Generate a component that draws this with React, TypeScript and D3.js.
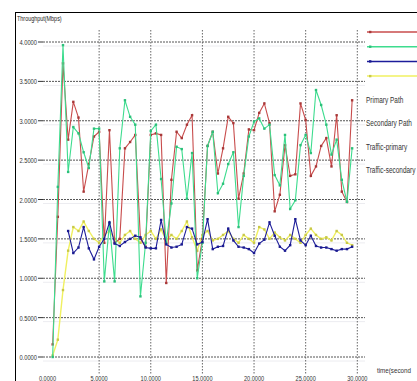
import React from "react";
import * as d3 from "d3";

const times = [0.5,1,1.5,2,2.5,3,3.5,4,4.5,5,5.5,6,6.5,7,7.5,8,8.5,9,9.5,10,10.5,11,11.5,12,12.5,13,13.5,14,14.5,15,15.5,16,16.5,17,17.5,18,18.5,19,19.5,20,20.5,21,21.5,22,22.5,23,23.5,24,24.5,25,25.5,26,26.5,27,27.5,28,28.5,29,29.5];

const primaryPath = [0.16,1.78,3.73,2.76,3.24,3.04,2.1,2.45,2.8,2.86,1.45,2.88,1.45,1.5,2.65,2.73,2.82,1.5,1.4,2.82,2.84,2.82,0.94,2.25,2.86,2.78,2.95,3.07,1.1,1.5,2.68,2.86,2.33,2.65,3.05,2.97,2.01,2.33,2.89,2.88,3.1,3.22,2.97,1.85,2.06,2.69,2.3,2.32,3.22,3.01,2.3,2.42,2.68,2.78,2.42,3.07,2.1,1.97,3.26];

const secondaryPath = [0.0,2.16,3.96,2.35,2.92,2.84,2.6,2.4,2.9,2.9,0.96,1.7,0.96,2.65,3.26,3.05,2.95,0.77,1.45,2.87,2.95,2.26,1.45,1.95,2.67,2.64,2.01,2.59,1.0,1.45,2.68,2.86,2.08,2.2,2.45,2.6,1.65,2.3,2.8,2.99,3.03,2.9,2.95,2.31,2.18,2.82,1.88,1.99,2.69,2.82,2.59,3.39,3.2,2.95,2.57,2.76,2.25,1.97,2.65];

const trafficPrimary = [null,null,null,1.6,1.32,1.39,1.65,1.38,1.24,1.4,1.5,1.71,1.44,1.41,1.46,1.5,1.54,1.52,1.39,1.38,1.38,1.74,1.43,1.39,1.4,1.43,1.65,1.63,1.43,1.46,1.75,1.37,1.4,1.41,1.63,1.48,1.4,1.39,1.37,1.32,1.44,1.49,1.71,1.54,1.4,1.35,1.42,1.75,1.48,1.42,1.54,1.41,1.39,1.39,1.37,1.35,1.37,1.37,1.4];

const trafficSecondary = [0.02,0.22,0.85,1.35,1.65,1.6,1.72,1.6,1.5,1.45,1.55,1.6,1.5,1.45,1.55,1.6,1.5,1.45,1.55,1.6,1.5,1.62,1.48,1.55,1.5,1.6,1.72,1.52,1.35,1.55,1.6,1.48,1.5,1.55,1.6,1.5,1.45,1.55,1.5,1.45,1.65,1.62,1.5,1.58,1.52,1.48,1.55,1.5,1.45,1.55,1.63,1.55,1.5,1.52,1.48,1.6,1.55,1.45,1.42];

const yTicks = [0, 0.5, 1, 1.5, 2, 2.5, 3, 3.5, 4];
const xTicks = [0, 5, 10, 15, 20, 25, 30];
const seriesNames = ["Primary Path", "Secondary Path", "Traffic-primary", "Traffic-secondary"];
const seriesColors = ["#c84c4c", "#3ddc8e", "#1c1c9a", "#f0f060"];
const markerColors = ["#a83838", "#2cc07a", "#1a1a90", "#c8c848"];

const W = 417, H = 381;
const FONT = "'Liberation Sans', Arial, sans-serif";

function NText({ x, y, sx = 0.75, size = 8, anchor = "start", children, fill = "#333" }: any) {
  return (
    <text transform={`translate(${x},${y}) scale(${sx},1)`} textAnchor={anchor}
      fontFamily={FONT} fontSize={size} fill={fill}>{children}</text>
  );
}

export default function App() {
  const x = d3.scaleLinear().domain([0, 30]).range([47.5, 357.3]);
  const y = d3.scaleLinear().domain([0, 4]).range([357, 42]);
  const allSeries = [primaryPath, secondaryPath, trafficPrimary, trafficSecondary];
  const drawOrder = [3, 0, 1, 2];

  const line = d3.line<[number, number | null]>()
    .defined(d => d[1] !== null)
    .x(d => x(d[0]))
    .y(d => y(d[1] as number));

  return (
    <div style={{ position: "fixed", left: 0, top: 0, width: W, height: H, background: "#fff" }}>
      <svg width={W} height={H} style={{ display: "block" }}>
        <rect x={0} y={0} width={W} height={H} fill="#fff" />
        {/* frame */}
        <line x1={15} y1={12.5} x2={W} y2={12.5} stroke="#000" strokeWidth={1} />
        <line x1={15.5} y1={12} x2={15.5} y2={H} stroke="#000" strokeWidth={1} />
        <NText x={17} y={21} sx={0.68} size={8} fill="#222">Throughput(Mbps)</NText>

        {/* horizontal grid */}
        {yTicks.map(t => (
          <g key={"y" + t}>
            <line x1={38} x2={43} y1={y(t)} y2={y(t)} stroke="#333" strokeWidth={1} />
            <line x1={43} x2={365} y1={y(t)} y2={y(t)} stroke="#555" strokeWidth={1} strokeDasharray="2,1" />
            <line x1={43} x2={365} y1={y(t) + 4} y2={y(t) + 4} stroke="#ececf0" strokeWidth={1} />
            <NText x={37} y={y(t) + 3} sx={0.72} size={8} anchor="end">{t.toFixed(4)}</NText>
          </g>
        ))}
        {/* vertical grid */}
        {xTicks.map(t => (
          <g key={"x" + t}>
            {t > 0 && <line x1={x(t)} x2={x(t)} y1={30} y2={374} stroke="#666" strokeWidth={1} strokeDasharray="1.5,1.5" />}
            <NText x={x(t)} y={380.5} sx={0.75} size={7.5} anchor="middle">{t.toFixed(4)}</NText>
          </g>
        ))}
        <NText x={377} y={373} sx={0.78} size={8}>time(second</NText>

        {/* series */}
        {drawOrder.map(si => {
          const data = times.map((t, i) => [t, allSeries[si][i]] as [number, number | null]);
          return (
            <g key={"s" + si}>
              <path d={line(data) || ""} fill="none" stroke={seriesColors[si]} strokeWidth={si === 3 ? 1.4 : 1.1} />
              {data.filter(d => d[1] !== null).map((d, i) => (
                <rect key={i} x={x(d[0]) - 1.2} y={y(d[1] as number) - 1.2} width={2.4} height={2.4} fill={markerColors[si]} />
              ))}
            </g>
          );
        })}

        {/* legend */}
        {seriesNames.map((n, i) => (
          <g key={"l" + i}>
            <line x1={367} x2={W} y1={32 + i * 14.7} y2={32 + i * 14.7} stroke={seriesColors[i]} strokeWidth={1.5} />
            <rect x={369} y={32 + i * 14.7 - 1.2} width={2.4} height={2.4} fill={markerColors[i]} />
            <NText x={366} y={103 + i * 23.3} sx={0.68} size={9.5}>{n}</NText>
          </g>
        ))}
      </svg>
    </div>
  );
}
